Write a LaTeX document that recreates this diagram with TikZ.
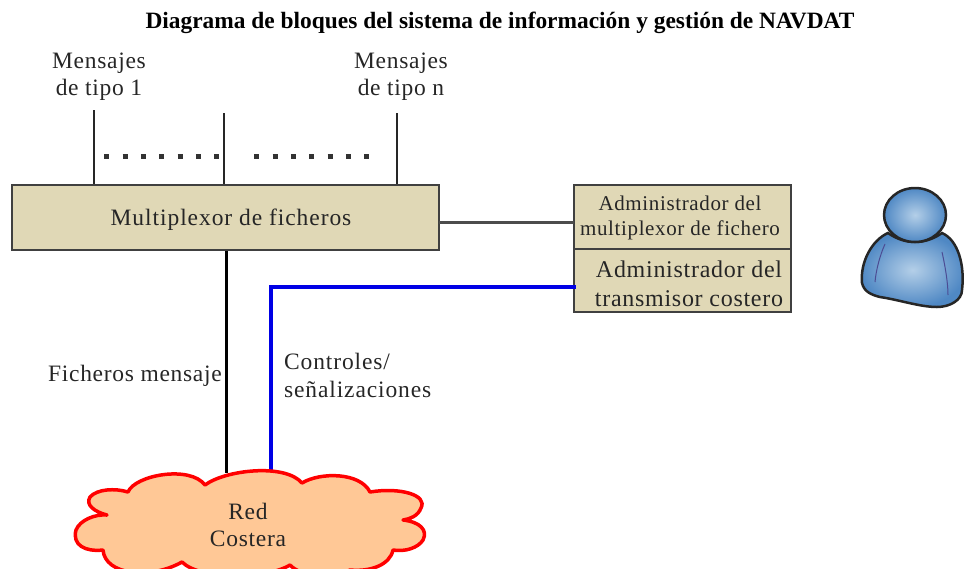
\documentclass[tikz,border=0pt]{standalone}
\usepackage{fontspec}
\setmainfont{Liberation Serif}
\definecolor{boxfill}{HTML}{E0D8B6}
\definecolor{cloudfill}{HTML}{FFC896}
\definecolor{personlight}{HTML}{B4CFE8}
\definecolor{persondark}{HTML}{4F88C4}
\tikzset{
	caja/.style={draw=black!75,line width=2pt,fill=boxfill,inner sep=0pt},
	rotulo/.style={align=center,inner sep=0pt,font=\fontsize{23.5}{27}\selectfont,text=black!85},
	linea/.style={line width=2.8pt,black!85},
	puntos/.style={line width=5pt,black!80,dash pattern=on 5pt off 13.33pt}
}
\begin{document}
\begin{tikzpicture}[x=1pt,y=-1pt]
	\useasboundingbox (0,0) rectangle (965,568);
	\node[font=\bfseries\fontsize{23.4}{27}\selectfont] (titulo) at (500,23) {Diagrama de bloques del sistema de información y gestión de NAVDAT};
	\node[rotulo] (msg1) at (99,77) {\addfontfeature{LetterSpace=3}Mensajes\\\addfontfeature{LetterSpace=3}de tipo 1};
	\node[rotulo] (msgn) at (401,77) {\addfontfeature{LetterSpace=3}Mensajes\\\addfontfeature{LetterSpace=3}de tipo n};
	% bloques
	\node[caja,minimum width=427pt,minimum height=65pt] (mux) at (225.5,217.5) {};
	\node[caja,minimum width=217pt,minimum height=64pt] (admmux) at (682.5,217) {};
	\node[caja,minimum width=217pt,minimum height=63pt] (admtx) at (682.5,280.5) {};
	\node[rotulo] (muxtxt) at (231,220) {\addfontfeature{LetterSpace=4}Multiplexor de ficheros};
	\node[font=\fontsize{21}{25}\selectfont,align=center,text=black!85] (admmuxtxt) at (680,218) {\addfontfeature{LetterSpace=3}Administrador del\\\addfontfeature{LetterSpace=3}multiplexor de fichero};
	\node[font=\fontsize{24}{29}\selectfont,align=center,text=black!85] (admtxtxt) at (689,284) {\addfontfeature{LetterSpace=3}Administrador del\\\addfontfeature{LetterSpace=3}transmisor costero};
	% lineas de entrada
	\coordinate (in1) at (94,110);
	\coordinate (in2) at (224,113);
	\coordinate (in3) at (397,113);
	\foreach \point in {in1,in2,in3} \draw[linea] (\point)--(\point |- mux.north);
	\coordinate (p1) at (104.2,156);
	\coordinate (p2) at (219.5,156);
	\coordinate (p3) at (254.2,156);
	\coordinate (p4) at (369.5,156);
	\draw[puntos] (p1)--(p2) (p3)--(p4);
	% nube
	\coordinate (negro) at (226,473);
	\coordinate (azul) at (271,472);
	\coordinate (azulcodo) at (271,287);
	\coordinate (azulfin) at (576,287);
	\coordinate (muxsal) at (439,222);
	\coordinate (admin) at (574,222);
	\draw[line width=3pt,black!70] (muxsal)--(admin);
	\draw[line width=3pt,black] (negro |- mux.south)--(negro);
	\draw[line width=4pt,blue!90!black] (azul)--(azulcodo)--(azulfin);
	\draw[red,line width=3.5pt,fill=cloudfill,line join=round]
		(205,485) .. controls (225,470) and (285,463) .. (302,483)
		.. controls (320,472) and (360,472) .. (370,492)
		.. controls (400,487) and (428,495) .. (421,508)
		.. controls (418,516) and (410,519) .. (403,520)
		.. controls (420,522) and (428,530) .. (423,540)
		.. controls (418,548) and (405,552) .. (393,550)
		.. controls (390,565) and (370,572) .. (350,570)
		.. controls (330,580) and (300,576) .. (290,565)
		.. controls (265,580) and (200,580) .. (182,562)
		.. controls (150,580) and (105,575) .. (103,550)
		.. controls (85,552) and (72,545) .. (76,530)
		.. controls (80,520) and (95,514) .. (107,515)
		.. controls (95,512) and (85,505) .. (90,497)
		.. controls (97,489) and (115,488) .. (128,492)
		.. controls (135,475) and (190,465) .. (205,485) -- cycle;
	\node[rotulo] (red) at (248,525) {\addfontfeature{LetterSpace=3}Red\\\addfontfeature{LetterSpace=3}Costera};
	\node[rotulo,anchor=east] (fich) at (222,376) {\addfontfeature{LetterSpace=3}Ficheros mensaje};
	\node[rotulo,align=left,anchor=west,font=\fontsize{23.5}{28}\selectfont] (ctrl) at (284,375) {\addfontfeature{LetterSpace=3.7}Controles/\\\addfontfeature{LetterSpace=3.7}señalizaciones};
	% usuario
	\draw[black!85,line width=2.5pt,inner color=personlight,outer color=persondark]
		(888,233) .. controls (872,240) and (860,262) .. (862,283)
		.. controls (864,292) and (872,295) .. (880,297)
		.. controls (900,300) and (920,307) .. (937,307)
		.. controls (950,307) and (962,300) .. (962,290)
		.. controls (965,265) and (958,240) .. (942,233)
		.. controls (925,245) and (905,245) .. (888,233) -- cycle;
	\draw[black!60!blue!70,line width=1pt] (885,244) .. controls (880,255) and (876,270) .. (875,282) (942,252) .. controls (946,270) and (948,285) .. (948,295);
	\draw[black!85,line width=2.5pt,inner color=personlight,outer color=persondark] (915,215) ellipse (31pt and 27pt);
\end{tikzpicture}
\end{document}
